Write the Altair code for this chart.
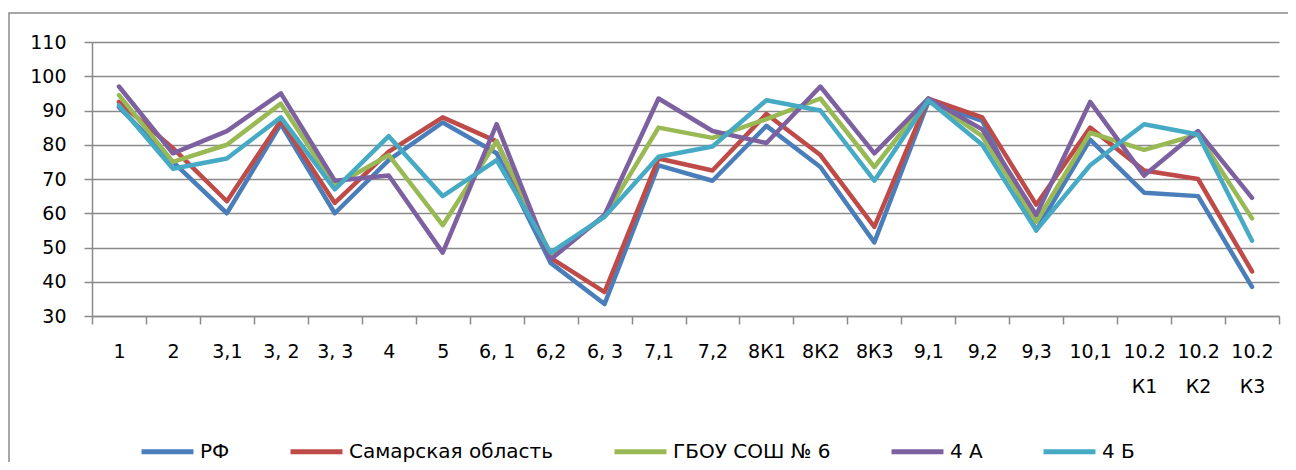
import altair as alt
import pandas as pd

categories = ["1", "2", "3,1", "3, 2", "3, 3", "4", "5", "6, 1", "6,2", "6, 3",
              "7,1", "7,2", "8К1", "8К2", "8К3", "9,1", "9,2", "9,3", "10,1",
              "10.2|К1", "10.2|К2", "10.2|К3"]

series_names = ["РФ", "Самарская область", "ГБОУ СОШ № 6", "4 А", "4 Б"]

rf = [91, 75, 60, 86, 60, 75.5, 86.5, 77.5, 45.5, 33.5, 74, 69.5, 85.5, 73.5, 51.5, 92.5, 87, 55, 81.5, 66, 65, 38.5]
samara = [92.5, 79, 63.5, 87, 63, 78, 88, 81, 47, 37, 76, 72.5, 89, 77, 56, 93.5, 88, 62.5, 85, 72.5, 70, 43]
school = [94.5, 75, 80, 92, 68, 77, 56.5, 81, 48, 59, 85, 82, 87.5, 93.5, 73.5, 93.5, 82.5, 57.5, 83.5, 78.5, 83, 58.5]
class_a = [97, 77.5, 84, 95, 69.5, 71, 48.5, 86, 46.5, 59.5, 93.5, 84, 80.5, 97, 77.5, 93.5, 84.5, 59.5, 92.5, 71, 84, 64.5]
class_b = [91.5, 73, 76, 88, 67, 82.5, 65, 75.5, 48.5, 59, 76.5, 79.5, 93, 90, 69.5, 93, 80, 55, 74, 86, 83, 52]

colors = ["#4A7EBB", "#BE4B48", "#98B954", "#7D60A0", "#46AAC5"]
y_ticks = [30, 40, 50, 60, 70, 80, 90, 100, 110]

values = [rf, samara, school, class_a, class_b]
rows = []
for name, vals in zip(series_names, values):
    for c, v in zip(categories, vals):
        rows.append({"cat": c, "series": name, "value": v})
df = pd.DataFrame(rows)

FONT = "DejaVu Sans"
GRID = "#8A8A8A"

x_enc = alt.X("cat:N", sort=categories, title=None,
              scale=alt.Scale(type="band", paddingInner=0, paddingOuter=0),
              axis=alt.Axis(labelAngle=0, tickBand="extent", tickSize=8, tickColor=GRID,
                            tickWidth=1.5, domainColor=GRID, domainWidth=1.5,
                            labelPadding=18, labelFontSize=19, labelFont=FONT,
                            labelColor="#000000", labelLineHeight=35,
                            labelExpr="split(datum.label, '|')", grid=False))
y_enc = alt.Y("value:Q", title=None,
              scale=alt.Scale(domain=[30, 110], nice=False, zero=False),
              axis=alt.Axis(values=y_ticks, tickSize=8, tickColor=GRID, tickWidth=1.5,
                            domainColor=GRID, domainWidth=1.5, gridColor=GRID,
                            gridWidth=1.5, labelPadding=18, labelFontSize=19,
                            labelFont=FONT, labelColor="#000000"))
stroke_enc = alt.Stroke("series:N", title=None,
                        scale=alt.Scale(domain=series_names, range=colors),
                        legend=alt.Legend(orient="none", direction="horizontal",
                                          legendX=47, legendY=381,
                                          symbolType="stroke", symbolSize=2700,
                                          symbolStrokeWidth=5, labelFontSize=20,
                                          labelFont=FONT, labelColor="#000000",
                                          labelOffset=4, columnPadding=50,
                                          labelLimit=400))

frame = alt.Chart(pd.DataFrame({"a": [0]})).mark_rect(
    filled=False, stroke="#8A8A8A", strokeWidth=1.5, clip=False
).encode(x=alt.value(-83), x2=alt.value(1260), y=alt.value(-29), y2=alt.value(470))

layers = [frame]
for name in series_names:
    layers.append(
        alt.Chart(df).transform_filter(alt.datum.series == name)
        .mark_line(strokeWidth=4.5, strokeJoin="round", strokeCap="round")
        .encode(x=x_enc, y=y_enc, stroke=stroke_enc)
    )

chart = alt.layer(*layers).properties(
    width=1187, height=274,
    padding={"left": 84, "top": 34, "right": 9, "bottom": 146},
    autosize=alt.AutoSizeParams(type="none"),
    background="#FFFFFF",
).configure_view(stroke=None)

chart.save("out.html", embed_options={"renderer": "svg", "actions": False})
